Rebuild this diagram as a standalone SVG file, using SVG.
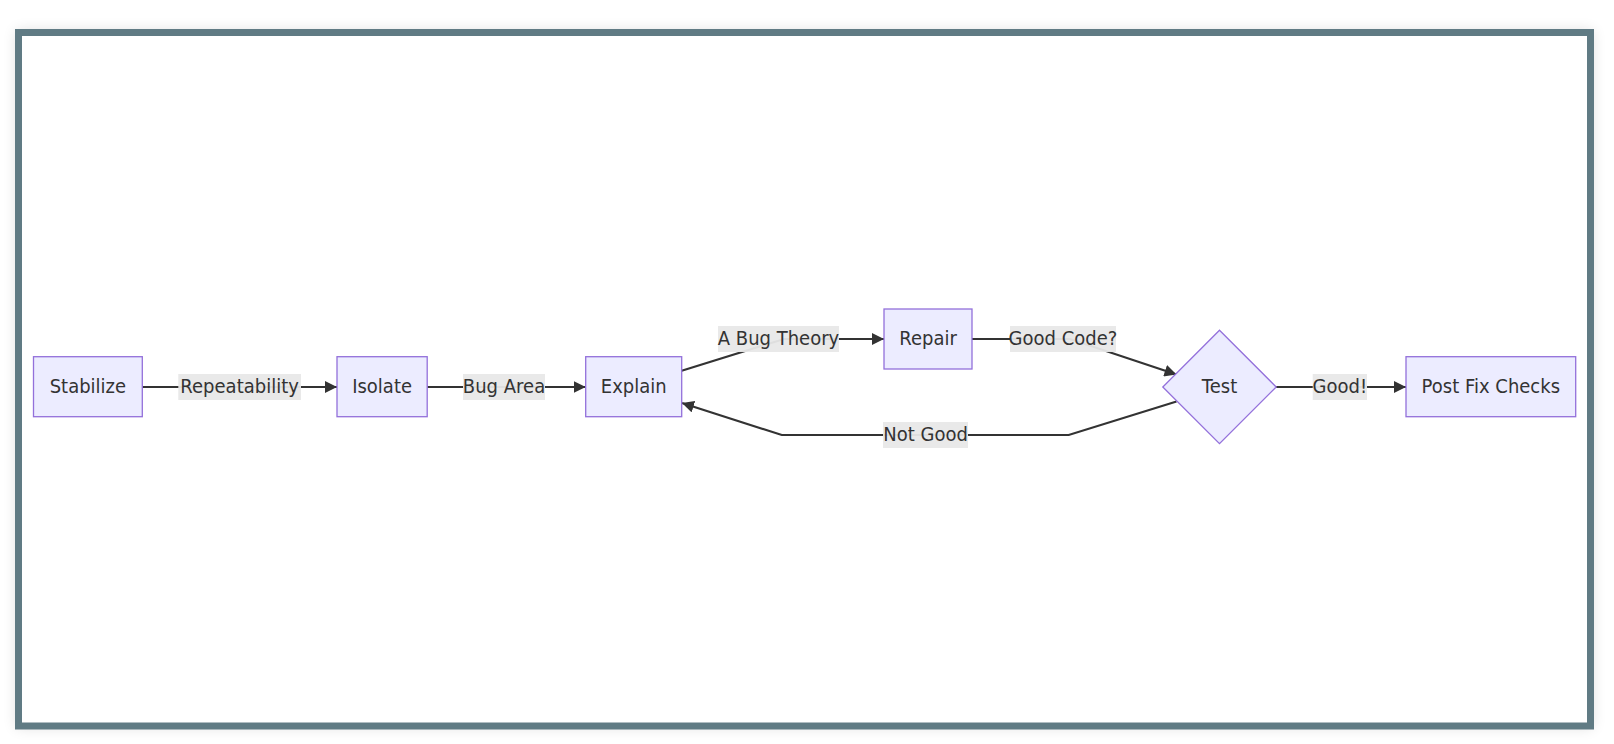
<svg xmlns="http://www.w3.org/2000/svg" width="1614" height="744" viewBox="0 0 1614 744">
<defs>
<filter id="shadow" x="-5%" y="-10%" width="110%" height="120%">
<feGaussianBlur stdDeviation="7"/>
</filter>
<marker id="arrow" viewBox="0 0 10 10" refX="10" refY="5" markerUnits="userSpaceOnUse" markerWidth="12" markerHeight="12" orient="auto">
<path d="M0,0 L10,5 L0,10 z" fill="#333333"/>
</marker>
<style>
.node{fill:#ECECFF;stroke:#9370DB;stroke-width:1.3}
.t{font-family:"DejaVu Sans","Verdana",sans-serif;font-size:18px;fill:#333333;text-anchor:middle}
.edge{fill:none;stroke:#333333;stroke-width:2.2}
.lbl{fill:#e8e8e8;opacity:0.95}
</style>
</defs>
<rect width="1614" height="744" fill="#ffffff"/>
<rect x="16" y="30" width="1577" height="698" fill="#000000" opacity="0.12" filter="url(#shadow)"/>
<rect x="18.5" y="32.5" width="1572" height="693.5" fill="#ffffff" stroke="#607b84" stroke-width="7"/>
<g id="connectors">
<path class="edge" d="M142.3,387 L337,387" marker-end="url(#arrow)"/>
<path class="edge" d="M427.2,387 L585.7,387" marker-end="url(#arrow)"/>
<path class="edge" d="M681.7,370.7 L784,339 L884,339" marker-end="url(#arrow)"/>
<path class="edge" d="M972,339 L1070,339 L1176.5,374.5" marker-end="url(#arrow)"/>
<path class="edge" d="M1176.5,401.5 L1068.7,435 L781.8,435 L682,403" marker-end="url(#arrow)"/>
<path class="edge" d="M1276,387 L1406,387" marker-end="url(#arrow)"/>
<g id="edge-labels">
<rect class="lbl" x="178.3" y="374" width="122.7" height="26"/>
<text class="t" transform="matrix(1 0 0 1.12 239.6 393.4)">Repeatability</text>
<rect class="lbl" x="463" y="374" width="82" height="26"/>
<text class="t" transform="matrix(1 0 0 1.12 504 393.4)">Bug Area</text>
<rect class="lbl" x="718" y="326" width="121" height="26"/>
<text class="t" transform="matrix(1 0 0 1.12 778.5 345.4)">A Bug Theory</text>
<rect class="lbl" x="1010" y="326" width="106" height="26"/>
<text class="t" transform="matrix(1 0 0 1.12 1063 345.4)">Good Code?</text>
<rect class="lbl" x="883" y="422" width="85" height="26"/>
<text class="t" transform="matrix(1 0 0 1.12 925.5 441.4)">Not Good</text>
<rect class="lbl" x="1312.7" y="374" width="54.3" height="26"/>
<text class="t" transform="matrix(1 0 0 1.12 1339.8 393.4)">Good!</text>
</g>
</g>
<g id="node-stabilize">
<rect class="node" x="33.5" y="356.7" width="108.8" height="60"/>
<text class="t" transform="matrix(1 0 0 1.12 87.9 393.4)">Stabilize</text>
</g>
<g id="node-isolate">
<rect class="node" x="337" y="356.7" width="90.2" height="60"/>
<text class="t" transform="matrix(1 0 0 1.12 382.1 393.4)">Isolate</text>
</g>
<g id="node-explain">
<rect class="node" x="585.7" y="356.7" width="96" height="60"/>
<text class="t" transform="matrix(1 0 0 1.12 633.7 393.4)">Explain</text>
</g>
<g id="node-repair">
<rect class="node" x="884" y="309" width="88" height="60"/>
<text class="t" transform="matrix(1 0 0 1.12 928 345.4)">Repair</text>
</g>
<g id="node-test">
<polygon class="node" points="1219.5,330.2 1276.2,387 1219.5,443.7 1162.8,387"/>
<text class="t" transform="matrix(1 0 0 1.12 1219.5 393.4)">Test</text>
</g>
<g id="node-postfix">
<rect class="node" x="1406" y="356.7" width="169.7" height="60"/>
<text class="t" transform="matrix(1 0 0 1.12 1490.8 393.4)">Post Fix Checks</text>
</g>
</svg>
